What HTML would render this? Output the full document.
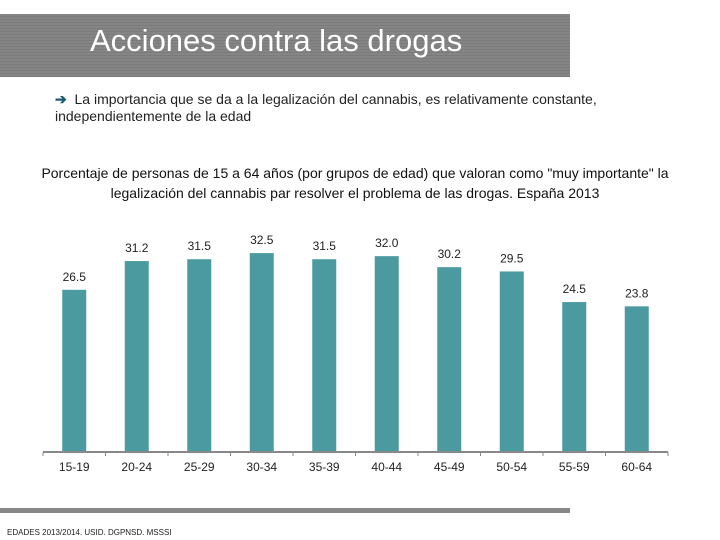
<!DOCTYPE html>
<html><head><meta charset="utf-8"><style>
body{margin:0;width:720px;height:540px;background:#fff;position:relative;overflow:hidden;font-family:"Liberation Sans",sans-serif}
.abs{position:absolute}
</style></head><body>
<div class="abs" style="left:0;top:14px;width:570px;height:63px;background:repeating-linear-gradient(#858585 0 2px,#7b7b7b 2px 3px)"></div>
<div class="abs" style="left:90px;top:23px;font-size:31px;color:#fff;white-space:nowrap">Acciones contra las drogas</div>
<div class="abs" style="left:55px;top:91px;font-size:14px;color:#222;line-height:17px;width:620px"><span style="color:#1a5a6e;font-weight:bold">➔</span>&nbsp; La importancia que se da a la legalización del cannabis, es relativamente constante, independientemente de la edad</div>
<div class="abs" style="left:0;top:163px;width:710px;text-align:center;font-size:14px;line-height:20px;color:#111;white-space:nowrap">Porcentaje de personas de 15 a 64 años (por grupos de edad) que valoran como "muy importante" la<br>legalización del cannabis par resolver el problema de las drogas. España 2013</div>
<svg class="abs" style="left:0;top:0" width="720" height="540" id="chart"></svg>
<div class="abs" style="left:0;top:508px;width:570px;height:5px;background:#888"></div>
<div class="abs" style="left:7px;top:528px;font-size:8px;color:#222">EDADES 2013/2014. USID. DGPNSD. MSSSI</div>
<script>
const categories=["15-19","20-24","25-29","30-34","35-39","40-44","45-49","50-54","55-59","60-64"];
const values=[26.5,31.2,31.5,32.5,31.5,32.0,30.2,29.5,24.5,23.8];
const labels=["26.5","31.2","31.5","32.5","31.5","32.0","30.2","29.5","24.5","23.8"];
const svg=document.getElementById('chart');const NS='http://www.w3.org/2000/svg';
const x0=43,step=62.5,base=452,k=6.12;
const xs=i=>x0+step*i+step/2, ys=v=>base-v*k;
function mk(t,a){const e=document.createElementNS(NS,t);for(const n in a)e.setAttribute(n,a[n]);svg.appendChild(e);return e;}
categories.forEach((c,i)=>{
 const r=mk('rect',{x:xs(i)-12,y:ys(values[i]),width:24,height:base-ys(values[i]),fill:'#4a9aa0'});
 
 
 const l=mk('text',{x:xs(i),y:ys(values[i])-9,'text-anchor':'middle','font-size':'12','fill':'#222','font-family':'Liberation Sans'});
 l.textContent=labels[i];
 
 
 const t=mk('text',{x:xs(i),y:base+19,'text-anchor':'middle','font-size':'12','fill':'#222','font-family':'Liberation Sans'});
 t.textContent=c;
 
 
});
const ax=mk('line',{x1:x0,y1:base,x2:x0+step*10,y2:base,stroke:'#888','stroke-width':2});


for(let i=0;i<=10;i++){const tk=mk('line',{x1:x0+step*i,y1:base,x2:x0+step*i,y2:base+4,stroke:'#888'});

}
</script>
</body></html>
